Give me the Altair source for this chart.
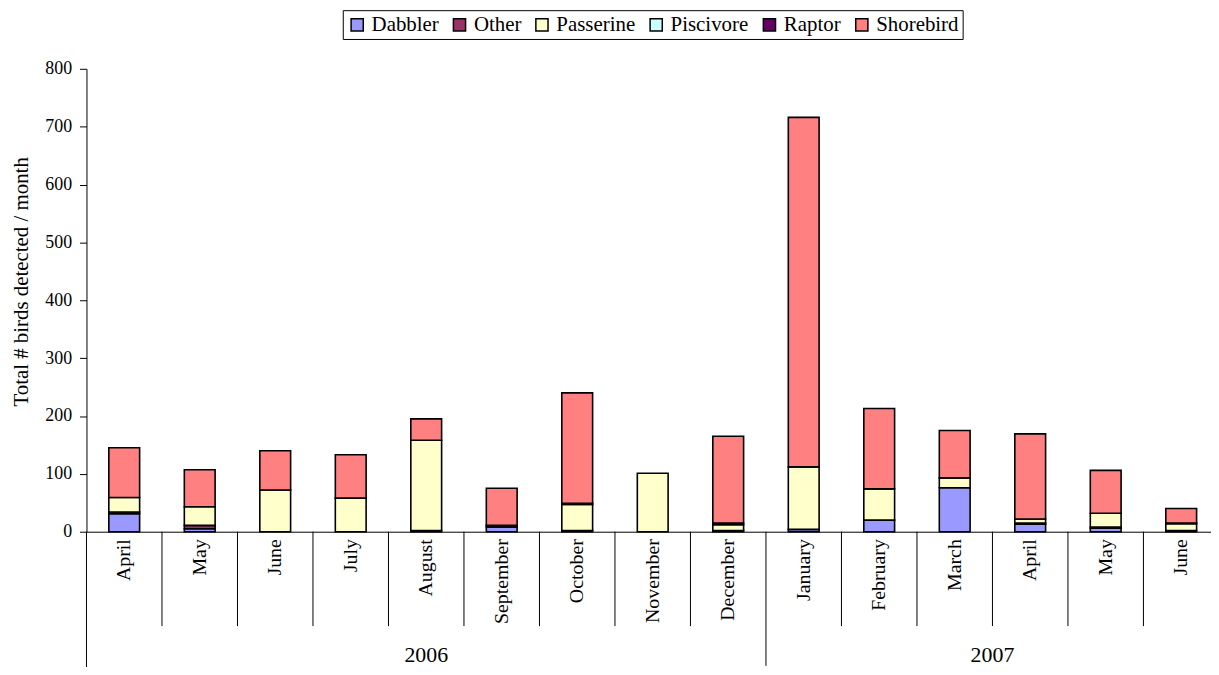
import altair as alt
import pandas as pd

months = ["April", "May", "June", "July", "August", "September", "October", "November",
          "December", "January", "February", "March", "April", "May", "June"]
years = ["2006"] * 9 + ["2007"] * 6
cats = [f"{m}|{y}" for m, y in zip(months, years)]

groups = ["Dabbler", "Other", "Passerine", "Piscivore", "Raptor", "Shorebird"]
colors = ["#9999FF", "#993366", "#FFFFCC", "#CCFFFF", "#660066", "#FF8080"]

dabbler = [31, 5, 0, 0, 0, 8, 0, 0, 0, 4, 20, 76, 13, 6, 0]
other = [3, 6, 0, 0, 2, 0, 2, 0, 2, 0, 0, 0, 2, 2, 2]
passerine = [25, 32, 72, 58, 156, 0, 45, 101, 10, 108, 54, 17, 7, 24, 12]
piscivore = [0] * 15
raptor = [0, 0, 0, 0, 0, 3, 2, 0, 3, 0, 0, 0, 0, 0, 1]
shorebird = [86, 64, 68, 75, 37, 64, 191, 0, 150, 604, 139, 82, 147, 74, 25]

series = [dabbler, other, passerine, piscivore, raptor, shorebird]
rows = []
for gi, (g, vals) in enumerate(zip(groups, series)):
    for c, v in zip(cats, vals):
        if v > 0:
            rows.append({"cat": c, "group": g, "value": v, "order": gi})
df = pd.DataFrame(rows)

FONT = "Liberation Serif"
xscale = alt.Scale(type="band", domain=cats, paddingInner=0, paddingOuter=0, range=[0, 1140])

x_enc = alt.X("cat:N", scale=xscale, sort=cats,
              axis=alt.Axis(title=None, labelAngle=-90, labelExpr="split(datum.label, '|')[0]",
                            labelFontSize=20, labelFont=FONT, labelColor="black",
                            ticks=False, domainColor="black", domainWidth=1, labelPadding=7))

bars = alt.Chart(df).mark_bar(size=31, stroke="black", strokeWidth=1.6).encode(
    x=x_enc,
    y=alt.Y("sum(value):Q", stack="zero",
            scale=alt.Scale(domain=[0, 800], nice=False),
            axis=alt.Axis(title="Total # birds detected / month", values=list(range(0, 801, 100)),
                          grid=False, domainColor="black", tickColor="black", tickSize=7,
                          labelFont=FONT, labelFontSize=18, labelColor="black",
                          titleFont=FONT, titleFontSize=21, titleFontWeight="normal",
                          titleColor="black", titlePadding=13, labelPadding=8, titleY=214)),
    color=alt.Color("group:N", scale=alt.Scale(domain=groups, range=colors),
                    legend=alt.Legend(title=None, orient="none", direction="horizontal",
                                      legendX=258, legendY=-59,
                                      labelFont=FONT, labelFontSize=21, labelColor="black",
                                      symbolType="square", symbolSize=150,
                                      symbolStrokeColor="black", symbolStrokeWidth=1.5,
                                      strokeColor="black", padding=4, columnPadding=10,
                                      symbolOffset=0, labelOffset=4)),
    order=alt.Order("order:Q", sort="ascending"),
)

div_cats = [c for i, c in enumerate(cats) if i not in (0, 9)]
div_df = pd.DataFrame({"cat": div_cats})
short_div = alt.Chart(div_df).mark_rule(color="black", strokeWidth=1).encode(
    x=alt.X("cat:N", scale=xscale, sort=cats, bandPosition=0),
    y=alt.value(466), y2=alt.value(561))

long_df = pd.DataFrame({"cat": [cats[9]]})
long_div = alt.Chart(long_df).mark_rule(color="black", strokeWidth=1).encode(
    x=alt.X("cat:N", scale=xscale, sort=cats, bandPosition=0),
    y=alt.value(466), y2=alt.value(601))

left_df = pd.DataFrame({"cat": [cats[0]]})
left_ext = alt.Chart(left_df).mark_rule(color="black", strokeWidth=1).encode(
    x=alt.X("cat:N", scale=xscale, sort=cats, bandPosition=0),
    y=alt.value(466), y2=alt.value(610))

y2006 = alt.Chart(pd.DataFrame({"cat": [cats[4]], "t": ["2006"]})).mark_text(
    font=FONT, fontSize=22, color="black", baseline="middle").encode(
    x=alt.X("cat:N", scale=xscale, sort=cats, bandPosition=0.5),
    y=alt.value(590), text="t:N")

y2007 = alt.Chart(pd.DataFrame({"cat": [cats[12]], "t": ["2007"]})).mark_text(
    font=FONT, fontSize=22, color="black", baseline="middle").encode(
    x=alt.X("cat:N", scale=xscale, sort=cats, bandPosition=0),
    y=alt.value(590), text="t:N")

chart = alt.layer(bars, short_div, long_div, left_ext, y2006, y2007).properties(
    width=1124, height=466,
    autosize=alt.AutoSizeParams(type="none"),
    padding={"left": 79, "top": 59, "right": 8, "bottom": 134},
).configure_view(stroke=None)

chart.save("out.html", embed_options={"renderer": "svg", "actions": False})
